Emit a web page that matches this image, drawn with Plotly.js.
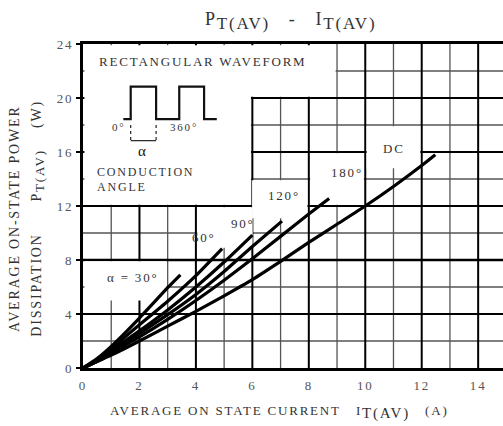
<!DOCTYPE html>
<html>
<head>
<meta charset="utf-8">
<script src="https://cdn.plot.ly/plotly-3.0.1.min.js"></script>
<style>
  html, body { margin: 0; padding: 0; background: #fff; }
  svg text { letter-spacing: 1.8px; }
</style>
</head>
<body>
<div id="chart" style="width:503px;height:426px;"></div>
<script>
// ---- data ----
const curveLabels = ['α = 30°', '60°', '90°', '120°', '180°', 'DC'];
const i30  = [0, 0.5, 1, 2, 3, 3.45];
const p30  = [0, 0.7, 1.6, 3.7, 5.95, 6.9];
const i60  = [0, 0.5, 1, 2, 3, 4, 4.93];
const p60  = [0, 0.6, 1.45, 3.2, 4.95, 6.85, 8.85];
const i90  = [0, 0.5, 1, 2, 3, 4, 5, 6.0];
const p90  = [0, 0.55, 1.3, 2.75, 4.3, 6.0, 7.85, 9.85];
const i120 = [0, 0.5, 1, 2, 3, 4, 5, 6, 7.05];
const p120 = [0, 0.55, 1.2, 2.55, 3.95, 5.45, 7.15, 9.0, 10.88];
const i180 = [0, 0.5, 1, 2, 3, 4, 5, 6, 7, 8, 8.72];
const p180 = [0, 0.5, 1.1, 2.3, 3.6, 5.0, 6.5, 8.1, 9.75, 11.4, 12.55];
const iDC  = [0, 1, 2, 3, 4, 5, 6, 7, 8, 9, 10, 11, 12, 12.48];
const pDC  = [0, 0.95, 2.0, 3.1, 4.2, 5.35, 6.55, 7.9, 9.3, 10.65, 12.0, 13.45, 15.0, 15.8];

const xTickVals = [0, 2, 4, 6, 8, 10, 12, 14];
const yTickVals = [0, 4, 8, 12, 16, 20, 24];
const xMinorGrid = [1, 3, 5, 7, 9, 11, 13];
const xMajorGrid = [2, 4, 6, 8, 10, 12, 14];
const yMinorGrid = [2, 6, 10, 14, 18, 22];
const yMajorGrid = [4, 8, 12, 16, 20];

// label positions (data units)
const labelX = [1.74, 4.29, 5.67, 7.13, 9.36, 11.03];
const labelY = [6.74, 9.7, 10.74, 12.8, 14.5, 16.25];

// waveform sketch inside the inset (data units)
const waveX = [1.43, 1.69, 1.69, 2.59, 2.59, 3.41, 3.41, 4.29, 4.29, 4.74];
const waveY = [18.44, 18.44, 20.84, 20.84, 18.44, 18.44, 20.84, 20.84, 18.44, 18.44];

// ---- build ----
const FONT = "'Liberation Serif', 'DejaVu Serif', serif";
const NB = n => '\u00a0'.repeat(n);
const series = [[i30,p30],[i60,p60],[i90,p90],[i120,p120],[i180,p180],[iDC,pDC]];
const traces = series.map((s, k) => ({
  x: s[0], y: s[1], type: 'scatter', mode: 'lines', name: curveLabels[k],
  line: {color: '#000', width: 3.2, shape: 'spline', smoothing: 0.5},
  showlegend: false, hoverinfo: 'skip'
}));
traces.push({x: waveX, y: waveY, type: 'scatter', mode: 'lines',
  line: {color: '#111', width: 2.2}, showlegend: false, hoverinfo: 'skip'});

const XMAX = 14.88;
const shapes = [];
xMinorGrid.forEach(v => shapes.push({type:'line', layer:'below', xref:'x', yref:'y', x0:v, x1:v, y0:0, y1:24, line:{color:'#555', width:1.3}}));
yMinorGrid.forEach(v => shapes.push({type:'line', layer:'below', xref:'x', yref:'y', x0:0, x1:XMAX, y0:v, y1:v, line:{color:'#555', width:1.3}}));
xMajorGrid.forEach(v => shapes.push({type:'line', layer:'below', xref:'x', yref:'y', x0:v, x1:v, y0:0, y1:24, line:{color:'#000', width:2}}));
yMajorGrid.forEach(v => shapes.push({type:'line', layer:'below', xref:'x', yref:'y', x0:0, x1:XMAX, y0:v, y1:v, line:{color:'#000', width: v === 8 ? 2.6 : 2}}));

const dx = 0.05, dy = 0.1;
const masks = [[0,3,4.9,8],[4,6.06,8.8,12],[5.94,8,11,14],[8,10,12,16],[10,12,14.7,18]];
masks.forEach(m => shapes.push({type:'rect', layer:'below', xref:'x', yref:'y',
  x0:m[0]+dx, x1:m[1]-dx, y0:m[2]+dy, y1:m[3]-dy, fillcolor:'#fff', line:{width:0}}));
shapes.push({type:'path', layer:'below', xref:'x', yref:'y',
  path: `M ${0+dx},${24-dy} L ${9-dx},${24-dy} L ${9-dx},${20+dy} L ${6-dx},${20+dy} L ${6-dx},${12+dy} L ${0+dx},${12+dy} Z`,
  fillcolor:'#fff', line:{width:0}});
shapes.push({type:'line', xref:'x', yref:'y', x0:1.69, x1:1.69, y0:18.0, y1:16.74, line:{color:'#222', width:1.2, dash:'dot'}});
shapes.push({type:'line', xref:'x', yref:'y', x0:2.59, x1:2.59, y0:18.0, y1:16.74, line:{color:'#222', width:1.2, dash:'dot'}});
shapes.push({type:'line', xref:'x', yref:'y', x0:1.69, x1:2.59, y0:16.84, y1:16.84, line:{color:'#222', width:1.2}});

const txt = (t, x, y, size, extra) => Object.assign({text: t, x: x, y: y, xref:'x', yref:'y',
  showarrow:false, font:{family: FONT, size: size, color:'#333'}}, extra || {});

const annotations = curveLabels.map((t, k) => txt(t, labelX[k], labelY[k], 13));
annotations.push(txt('RECTANGULAR WAVEFORM', 0.5, 22.67, 13, {xanchor:'left'}));
annotations.push(txt('0°', 1.28, 17.85, 11));
annotations.push(txt('360°', 3.58, 17.85, 11));
annotations.push(txt('α', 2.13, 16.1, 15, {font:{family: FONT, size: 15, color:'#111'}}));
annotations.push(txt('CONDUCTION', 0.43, 14.5, 12, {xanchor:'left'}));
annotations.push(txt('ANGLE', 0.43, 13.4, 12, {xanchor:'left'}));
const SUB = (s, px) => '<sub><span style="font-size:' + px + 'px">' + s + '</span></sub>';
annotations.push({text:'AVERAGE ON STATE CURRENT' + NB(3) + 'I' + SUB('T(AV)', 15) + NB(3) + '(A)', xref:'paper', yref:'paper',
  x: 0.469, y: -0.136, xanchor:'center', yanchor:'middle', showarrow:false,
  font:{family: FONT, size: 13, color:'#333'}});
annotations.push({text:'AVERAGE ON-STATE POWER', xref:'paper', yref:'paper',
  x: -0.162, y: 0.46, textangle:-90, xanchor:'center', yanchor:'middle', showarrow:false,
  font:{family: FONT, size: 14, color:'#333'}});
annotations.push({text:'DISSIPATION' + NB(6) + 'P' + SUB('T(AV)', 13) + NB(4) + '(W)', xref:'paper', yref:'paper',
  x: -0.108, y: 0.463, textangle:-90, xanchor:'center', yanchor:'middle', showarrow:false,
  font:{family: FONT, size: 14, color:'#333'}});

const layout = {
  width: 503, height: 426,
  margin: {l: 83, r: 0, t: 44, b: 58, pad: 0},
  paper_bgcolor: '#fff', plot_bgcolor: '#fff',
  title: {text: 'P' + SUB('T(AV)', 17) + NB(3) + '-' + NB(3) + 'I' + SUB('T(AV)', 17),
    x: 0.578, xanchor:'center', xref:'container',
    y: 0.955, yanchor:'middle', yref:'container', font:{family: FONT, size: 18, color:'#333'}},
  xaxis: {range: [0, XMAX], showgrid:false, zeroline:false, tickvals: xTickVals, ticks:'',
    showline:true, mirror:true, linecolor:'#000', linewidth:3, ticklabelstandoff: 3,
    tickfont:{family: FONT, size: 13, color:'#555'}, fixedrange:true},
  yaxis: {range: [0, 24], showgrid:false, zeroline:false, tickvals: yTickVals, ticks:'outside', ticklen:4, tickwidth:1.5, tickcolor:'#000',
    showline:true, linecolor:'#000', linewidth:3,
    tickfont:{family: FONT, size: 13, color:'#555'}, fixedrange:true},
  shapes: shapes,
  annotations: annotations,
  showlegend: false
};
Plotly.newPlot('chart', traces, layout, {staticPlot: true, displayModeBar: false});
</script>
</body>
</html>
